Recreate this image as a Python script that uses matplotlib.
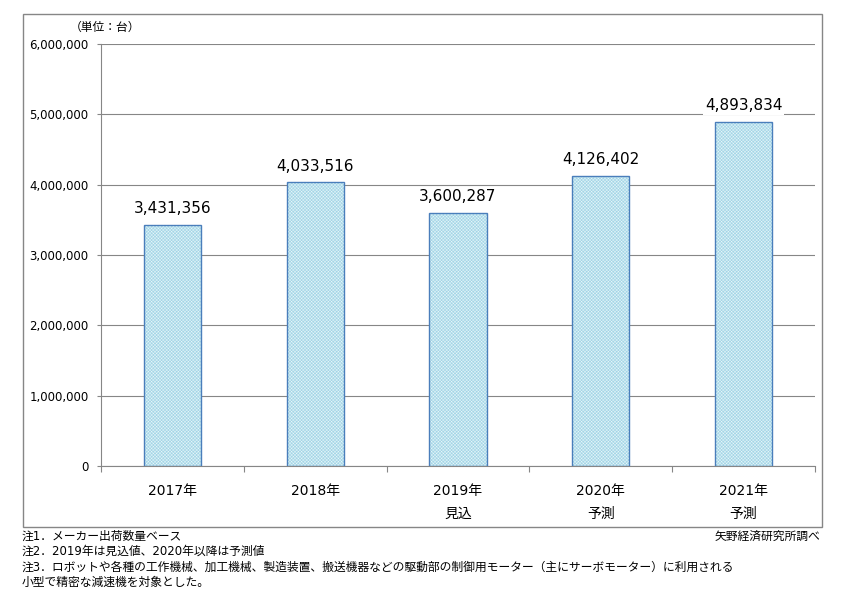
import matplotlib.pyplot as plt
import matplotlib.patches as patches
from matplotlib.ticker import FuncFormatter
import numpy as np

# data
years = ['2017年', '2018年', '2019年', '2020年', '2021年']
sub_labels = ['', '', '見込', '予測', '予測']
units = [3431356, 4033516, 3600287, 4126402, 4893834]
y_ticks = [0, 1000000, 2000000, 3000000, 4000000, 5000000, 6000000]
notes = [
    '注1．メーカー出荷数量ベース',
    '注2．2019年は見込値、2020年以降は予測値',
    '注3．ロボットや各種の工作機械、加工機械、製造装置、搬送機器などの駆動部の制御用モーター（主にサーボモーター）に利用される',
    '小型で精密な減速機を対象とした。',
]
source = '矢野経済研究所調べ'

plt.rcParams['font.family'] = ['DejaVu Sans', 'Noto Sans CJK JP']
plt.rcParams['hatch.linewidth'] = 0.35
grey = '#868686'

fig = plt.figure(figsize=(8.49, 6.02), dpi=100)

# outer frame
fig.patches.append(patches.Rectangle((23 / 849, 75 / 602), 799 / 849, 513 / 602,
                                     transform=fig.transFigure, fill=False,
                                     edgecolor=grey, linewidth=1))

ax = fig.add_axes([101 / 849, 136 / 602, 714 / 849, 422 / 602])
x = np.arange(len(years))

# fine hatched fill, then outline on top
ax.bar(x, units, width=0.4, color='#a3d6e6', edgecolor='#e4f4f9', hatch='xxxxxxxxxx',
       linewidth=0, zorder=2)
ax.bar(x, units, width=0.4, fill=False, edgecolor='#4a7ebb', linewidth=1, zorder=3)

for xi, v in zip(x, units):
    ax.annotate(f'{v:,}', (xi, v), xytext=(0, 6), textcoords='offset points',
                ha='center', va='bottom', fontsize=11,
                bbox=dict(facecolor='white', edgecolor='none', pad=1), zorder=4)

ax.set_xlim(-0.5, len(years) - 0.5)
ax.set_ylim(0, 6000000)
ax.set_yticks(y_ticks)
ax.yaxis.set_major_formatter(FuncFormatter(lambda v, p: f'{int(v):,}'))
ax.grid(axis='y', color=grey, linewidth=0.8, zorder=0)
ax.set_axisbelow(True)

ax.set_xticks(x)
ax.set_xticklabels(years, fontsize=10)
ax.set_xticks(np.arange(len(years) + 1) - 0.5, minor=True)
ax.tick_params(axis='x', which='major', length=0, pad=13)
ax.tick_params(axis='x', which='minor', length=4, color=grey, width=0.8)
ax.tick_params(axis='y', length=3, color=grey, width=0.8, pad=6, labelsize=8.5)

for xi, s in zip(x, sub_labels):
    if s:
        ax.annotate(s, (xi, 0), xytext=(0, -48), textcoords='offset pixels',
                    ha='center', va='center', fontsize=10)

for side in ['top', 'right']:
    ax.spines[side].set_visible(False)
for side in ['left', 'bottom']:
    ax.spines[side].set_color(grey)
    ax.spines[side].set_linewidth(0.8)

fig.text(105 / 849, 1 - 27 / 602, '（単位：台）', ha='center', va='center', fontsize=8.5)

for i, line in enumerate(notes):
    fig.text(22 / 849, 1 - (536 + 15.5 * i) / 602, line, ha='left', va='center', fontsize=8.5)
fig.text(820 / 849, 1 - 536 / 602, source, ha='right', va='center', fontsize=8.5)

fig.savefig('out.png', dpi=100)
